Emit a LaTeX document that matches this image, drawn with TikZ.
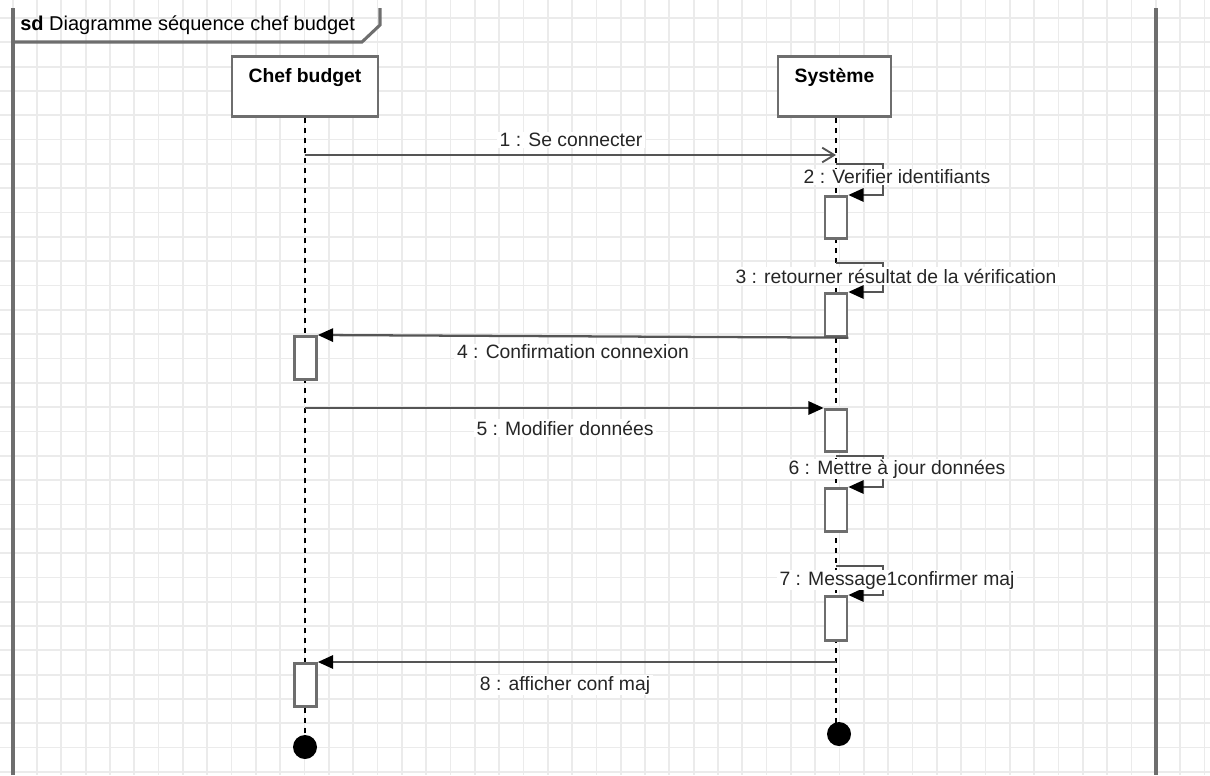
\documentclass[tikz,border=0pt]{standalone}
\usepackage{fontspec}
\setmainfont{Liberation Sans}
\usetikzlibrary{arrows.meta}
\definecolor{gridc}{HTML}{EBEBEB}
\definecolor{linec}{HTML}{555555}
\definecolor{boxc}{HTML}{6E6E6E}
\begin{document}
\begin{tikzpicture}[x=0.75pt,y=-0.75pt,
  font=\fontsize{14.5}{17}\selectfont,
  lifebox/.style={draw=boxc, line width=2.1pt, fill=white, anchor=north, inner ysep=9pt, text height=10.5pt, text depth=16.5pt, font=\fontsize{14.5}{17}\selectfont\bfseries},
  act/.style={draw=boxc, line width=2pt, fill=white, anchor=north, minimum width=16.5pt, inner sep=0pt},
  lifeline/.style={black, line width=1.1pt, dash pattern=on 4pt off 3.5pt},
  msg/.style={draw=linec, line width=1.7pt},
  sync/.style={msg, -{Triangle[length=11.5pt,width=10pt,color=black]}},
  async/.style={msg, -{Straight Barb[length=9pt,width=11pt,line width=1.4pt]}},
  lbl/.style={fill=white, inner xsep=2pt, inner ysep=1pt, text=black!85},
  endpt/.style={circle, fill=black, minimum size=18pt, inner sep=0pt},
  framel/.style={draw=boxc, line width=2.3pt}
]
\useasboundingbox (0,0) rectangle (1210,775);
% grid
\foreach \k in {0,...,49} {\draw[gridc, line width=1.3pt] ({12.7+24.32*\k},0) -- ({12.7+24.32*\k},775);}
\foreach \k in {0,...,31} {\draw[gridc, line width=1.3pt] (0,{18+24.32*\k}) -- (1210,{18+24.32*\k});}
% frame
\draw[framel] (13,775) -- (13,8);
\draw[framel] (1156,8) -- (1156,775);
\draw[framel] (13,42) -- (362,42) -- (380,25) -- (380,8);
\node[anchor=west, inner sep=0pt, font=\fontsize{15}{18}\selectfont] (title) at (20,25) {\textbf{sd} Diagramme séquence chef budget};
% lifeline heads
\node[lifebox, minimum width=109.5pt] (chef) at (305,55) {Chef budget};
\node[lifebox, minimum width=84.75pt] (sys) at (834.5,55) {Système};
% ends
\node[endpt] (chefend) at (305,747) {};
\node[endpt] (sysend) at (839,734) {};
% lifelines
\draw[lifeline] (chef.south) -- (chefend.north);
\draw[lifeline] (sys.south -| 836,0) -- (836,724);
% activations
\node[act, minimum height=31.5pt] (a2) at (836,195) {};
\node[act, minimum height=32.25pt] (a3) at (836,292) {};
\node[act, minimum height=32.25pt] (a4) at (305.5,335) {};
\node[act, minimum height=31.5pt] (a5) at (836,408) {};
\node[act, minimum height=32.25pt] (a6) at (836,487) {};
\node[act, minimum height=33pt] (a7) at (836,595) {};
\node[act, minimum height=32.25pt] (a8) at (305.5,662) {};
% coordinates on lifelines
\coordinate (c1) at (305,155);
\coordinate (s1) at (836,155);
\coordinate (s2) at (836,164);
\coordinate (s3) at (836,263);
\coordinate (c5) at (305,408);
\coordinate (s6) at (836,456);
\coordinate (s7) at (836,566);
\coordinate (s8) at (836,662);
% messages
\draw[async] (c1) -- (s1);
\node[lbl] (l1) at (571,140) {1 : Se connecter};
\draw[sync] (s2) -- (883,164) -- (883,195) -- (a2.north east);
\node[lbl] (l2) at (897,177) {2 : Verifier identifiants};
\draw[sync] (s3) -- (883,263) -- (883,292) -- (a3.north east);
\node[lbl] (l3) at (896,276) {3 : retourner résultat de la vérification};
\draw[sync] (a3.south east) -- (a4.north east);
\node[lbl] (l4) at (573,352) {4 : Confirmation connexion};
\draw[sync] (c5) -- (a5.north west);
\node[lbl] (l5) at (565,428) {5 : Modifier données};
\draw[sync] (s6) -- (883,456) -- (883,487) -- (a6.north east);
\node[lbl] (l6) at (897,469) {6 : Mettre à jour données};
\draw[sync] (s7) -- (883,566) -- (883,595) -- (a7.north east);
\node[lbl] (l7) at (897,580) {7 : Message1confirmer maj};
\draw[sync] (s8) -- (a8.north east);
\node[lbl] (l8) at (565,685) {8 : afficher conf maj};
\end{tikzpicture}
\end{document}
